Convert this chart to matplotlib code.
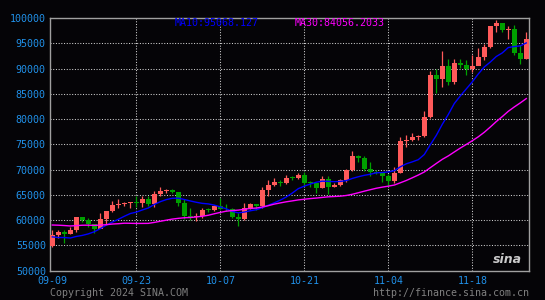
import matplotlib
matplotlib.use("Agg")
import matplotlib.pyplot as plt
import numpy as np

# daily candles 2024-09-09 .. 2024-11-27
dates = ["09-09", "09-23", "10-07", "10-21", "11-04", "11-18"]
date_idx = [0, 14, 28, 42, 56, 70]

opens = [54840, 57020, 57650, 57340, 58130, 60570, 60000, 59180, 58210, 60310,
         61760, 62950, 63200, 63350, 63580, 63340, 64260, 63140, 65180, 65790,
         65890, 65600, 63330, 60840, 60630, 60750, 62090, 62070, 62820, 62220,
         62130, 60580, 60270, 62440, 63190, 62850, 66050, 67040, 67610, 67400,
         68420, 68360, 69000, 67370, 67360, 66430, 68160, 66640, 67010, 67930,
         69910, 72720, 72340, 70220, 69480, 69300, 68740, 67810, 69360, 75640,
         75900, 76550, 76680, 80470, 88700, 87950, 90580, 87250, 91070, 90610,
         89850, 90460, 92340, 94340, 98400, 98930, 97690, 97900, 93010, 91950]
closes = [57020, 57650, 57340, 58130, 60570, 60000, 59180, 58210, 60310, 61760,
          62950, 63200, 63350, 63580, 63340, 64260, 63140, 65180, 65790, 65890,
          65600, 63330, 60840, 60630, 60750, 62090, 62070, 62820, 62220, 62130,
          60580, 60270, 62440, 63190, 62850, 66050, 67040, 67610, 67400, 68420,
          68360, 69000, 67370, 67360, 66430, 68160, 66640, 67010, 67930, 69910,
          72720, 72340, 70220, 69480, 69300, 68740, 67810, 69360, 75640, 75900,
          76550, 76680, 80470, 88700, 87950, 90580, 87250, 91070, 90610, 89850,
          90460, 92340, 94340, 98400, 98930, 97690, 97900, 93010, 91950, 95860]
highs = [58040, 58040, 57990, 58560, 60670, 60610, 60380, 59200, 61320, 61790,
         63850, 64100, 63550, 63600, 64750, 64800, 64700, 65800, 66500, 66260,
         66070, 65600, 64100, 62370, 61460, 62460, 62370, 62970, 64450, 63200,
         62480, 61320, 63400, 63480, 63270, 66480, 67880, 68380, 67900, 68970,
         68670, 69430, 69500, 67800, 67430, 68780, 68700, 67300, 68230, 70200,
         73600, 72950, 72700, 71600, 69900, 69400, 69050, 70500, 76400, 76900,
         77300, 76900, 81500, 89600, 89900, 93400, 91800, 91800, 91800, 91700,
         92600, 94000, 94900, 98500, 99600, 98800, 98500, 98700, 94700, 97200]
lows = [54600, 56410, 55560, 57350, 57650, 59600, 58700, 57500, 58400, 59200,
        61600, 62400, 62760, 62330, 62600, 62700, 62800, 62700, 64800, 65420,
        65450, 62900, 60200, 59990, 59900, 60500, 61700, 61800, 62150, 61860,
        60460, 58900, 60050, 62220, 62050, 62450, 64800, 66700, 66700, 67200,
        68000, 68180, 66800, 66600, 65300, 66450, 65200, 66550, 66850, 67500,
        69750, 71450, 69700, 68800, 69040, 67500, 66800, 67450, 69300, 74500,
        75600, 75900, 76500, 80200, 85200, 86300, 86700, 87000, 90100, 88800,
        89400, 90800, 91600, 94000, 97200, 97200, 95800, 92600, 90800, 91800]

ma10 = [56695, 56563, 56567, 56468, 56777, 56980, 57282, 57708, 58325, 59017,
        59610, 60165, 60766, 61311, 61588, 62014, 62410, 63107, 63655, 64068,
        64333, 64346, 64095, 63800, 63541, 63324, 63217, 62981, 62624, 62248,
        61746, 61440, 61600, 61856, 62066, 62462, 62959, 63438, 63956, 64585,
        65363, 66236, 66729, 67146, 67504, 67715, 67675, 67615, 67668, 67817,
        68253, 68587, 68872, 69084, 69371, 69429, 69546, 69781, 70552, 71151,
        71534, 71968, 72993, 74915, 76780, 78964, 80908, 83079, 84576, 85971,
        87362, 88928, 90315, 91285, 92383, 93094, 94159, 94353, 94487, 95068]
ma30 = [59039, 59003, 58936, 58854, 58915, 58996, 59006, 58963, 59024, 59100,
        59231, 59299, 59398, 59381, 59353, 59356, 59365, 59554, 59779, 59997,
        60213, 60358, 60476, 60526, 60635, 60773, 60970, 61265, 61535, 61778,
        61896, 61984, 62154, 62322, 62398, 62600, 62862, 63175, 63412, 63634,
        63814, 64007, 64141, 64267, 64370, 64500, 64617, 64678, 64749, 64883,
        65121, 65421, 65734, 66029, 66314, 66535, 66727, 66945, 67392, 67851,
        68383, 68930, 69531, 70382, 71218, 72036, 72710, 73492, 74265, 74980,
        75716, 76494, 77393, 78428, 79511, 80496, 81538, 82404, 83205, 84056]

BG = "#050407"
UP = "#ff5a5a"
DOWN = "#00a000"
LABEL = "#2090e8"
GRID = "#d0d0d0"
MONO = "DejaVu Sans Mono"

W, H = 545, 300
fig = plt.figure(figsize=(W / 100, H / 100), dpi=100, facecolor=BG)
ax = fig.add_axes([50 / W, (H - 270.7) / H, 479 / W, 252.7 / H], facecolor=BG)

x = np.arange(len(closes))
o = np.array(opens)
c = np.array(closes)
colors = np.where(c >= o, UP, DOWN)

# dotted grid
for v in range(55000, 100000, 5000):
    ax.axhline(v, color=GRID, lw=0.75, ls=(0, (1, 1.6)), zorder=1)
for i in date_idx[1:]:
    ax.axvline(i, color=GRID, lw=0.75, ls=(0, (1, 1.6)), zorder=1)

# candles
ax.vlines(x, lows, highs, colors=colors, lw=0.9, zorder=2)
body = np.maximum(np.abs(c - o), 120)
ax.bar(x, body, bottom=np.minimum(o, c), width=0.82, color=colors, lw=0, zorder=3)

ax.plot(x, ma10, color="#0000ff", lw=1, zorder=4)
ax.plot(x, ma30, color="#ff00ff", lw=1, zorder=4)

ax.set_xlim(-0.38, 79.45)
ax.set_ylim(50000, 100000)
ax.set_yticks(range(50000, 100001, 5000))
ax.set_yticklabels([str(v) for v in range(50000, 100001, 5000)])
ax.set_xticks(date_idx)
ax.set_xticklabels(dates)
ax.tick_params(length=0, colors=LABEL, labelsize=7.2)
ax.tick_params(axis="y", pad=3)
ax.tick_params(axis="x", pad=4)
for lab in ax.get_xticklabels() + ax.get_yticklabels():
    lab.set_family(MONO)
for s in ax.spines.values():
    s.set_color("#a0a0a0")
    s.set_linewidth(1)

fig.text(175 / W, 1 - 23.5 / H, "MA10:95068.127", color="#0000ff", fontsize=7.2,
         family=MONO, va="center", ha="left")
fig.text(295 / W, 1 - 23.5 / H, "MA30:84056.2033", color="#ff00ff", fontsize=7.2,
         family=MONO, va="center", ha="left")

fig.text(50 / W, 1 - 292.5 / H, "Copyright 2024 SINA.COM", color="#808080",
         fontsize=7.2, family=MONO, va="center", ha="left")
fig.text(529 / W, 1 - 292.5 / H, "http://finance.sina.com.cn", color="#808080",
         fontsize=7.2, family=MONO, va="center", ha="right")

# sina logo
ax.text(0.985, 0.02, "sina", transform=ax.transAxes, color="#e0e0e0",
        fontsize=9, fontweight="bold", style="italic", ha="right", va="bottom",
        alpha=0.9, zorder=5)

fig.savefig("out.png", dpi=100, facecolor=BG)
